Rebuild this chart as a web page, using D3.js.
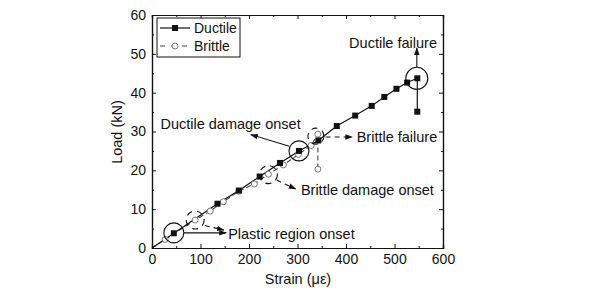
<!DOCTYPE html>
<html>
<head>
<meta charset="utf-8">
<script src="https://cdn.jsdelivr.net/npm/d3@7"></script>
<style>
  body { margin: 0; background: #fff; }
  text { font-family: "Liberation Sans", Arial, sans-serif; fill: #111; }
</style>
</head>
<body>
<svg width="600" height="298"></svg>
<script>
// strain (micro-strain) / load (kN)
const ductileStrain = [0, 45, 135, 179, 222, 264, 303, 343, 381, 419, 453, 479, 504, 526, 547, 547]
const ductileLoad   = [0, 3.8, 11.4, 14.8, 18.4, 21.9, 25.0, 27.7, 31.4, 34.1, 36.6, 38.9, 41.0, 42.6, 43.7, 35.1]
const brittleStrain = [0, 27, 89, 120, 147, 179, 211, 240, 271, 302, 328, 342, 342]
const brittleLoad   = [0, 2.2, 7.2, 9.5, 11.9, 14.6, 16.5, 19.0, 21.4, 24.1, 26.4, 29.3, 20.3]
const xTicks = [0, 100, 200, 300, 400, 500, 600]
const yTicks = [0, 10, 20, 30, 40, 50, 60]

// annotations, in data units
const circles = [
  {x: 45, y: 3.9, r: 10, dashed: false},
  {x: 303, y: 25, r: 10, dashed: false},
  {x: 546, y: 43.7, r: 11, dashed: false},
  {x: 89, y: 7.2, r: 9, dashed: true},
  {x: 240, y: 18.9, r: 9, dashed: true},
  {x: 338, y: 28.8, r: 8, dashed: true}
]
const arrows = [
  {x1: 66, y1: 3.9, x2: 153, y2: 3.9, dashed: false},
  {x1: 109, y1: 5.8, x2: 148, y2: 4.6, dashed: true},
  {x1: 283, y1: 26.2, x2: 204, y2: 29.2, dashed: false},
  {x1: 546, y1: 46.6, x2: 546, y2: 51.5, dashed: false},
  {x1: 358, y1: 28.6, x2: 413, y2: 28.6, dashed: true},
  {x1: 257, y1: 17.5, x2: 296, y2: 15.2, dashed: true}
]
const labels = [
  {x: 157, y: 3.6, text: 'Plastic region onset', anchor: 'start'},
  {x: 162, y: 31.9, text: 'Ductile damage onset', anchor: 'middle'},
  {x: 497, y: 52.9, text: 'Ductile failure', anchor: 'middle'},
  {x: 422, y: 28.6, text: 'Brittle failure', anchor: 'start'},
  {x: 307, y: 15.0, text: 'Brittle damage onset', anchor: 'start'}
]

const svg = d3.select('svg')
const x = d3.scaleLinear().domain([0, 600]).range([152, 443])
const y = d3.scaleLinear().domain([0, 60]).range([248, 15])

const defs = svg.append('defs')
defs.append('clipPath').attr('id', 'clip')
  .append('rect').attr('x', 152).attr('y', 15).attr('width', 291).attr('height', 233)
defs.append('marker').attr('id', 'head')
  .attr('viewBox', '0 0 10 10').attr('refX', 9).attr('refY', 5)
  .attr('markerWidth', 7).attr('markerHeight', 7).attr('orient', 'auto')
  .append('path').attr('d', 'M0,1.5 L10,5 L0,8.5 Z').attr('fill', '#111')

// frame + ticks (Origin style: inward on all four sides)
const minorX = d3.range(50, 600, 100)
const minorY = d3.range(5, 60, 10)
const fmt = d3.format('d')

function styleAxis(g) {
  g.select('.domain').attr('stroke', '#111').attr('stroke-width', 1.2)
  g.selectAll('.tick line').attr('stroke', '#111')
  g.selectAll('.tick text').attr('font-size', 14).attr('fill', '#111')
    .attr('font-family', '"Liberation Sans", Arial, sans-serif')
}

svg.append('g').attr('transform', 'translate(0,248)')
  .call(d3.axisBottom(x).tickValues(xTicks).tickFormat(fmt).tickSize(-4).tickPadding(6))
  .call(styleAxis)
svg.append('g').attr('transform', 'translate(0,248)')
  .call(d3.axisBottom(x).tickValues(minorX).tickFormat('').tickSize(-2))
  .call(styleAxis)
svg.append('g').attr('transform', 'translate(0,15)')
  .call(d3.axisTop(x).tickValues(xTicks).tickFormat('').tickSize(-4))
  .call(styleAxis)
svg.append('g').attr('transform', 'translate(0,15)')
  .call(d3.axisTop(x).tickValues(minorX).tickFormat('').tickSize(-2))
  .call(styleAxis)
svg.append('g').attr('transform', 'translate(152,0)')
  .call(d3.axisLeft(y).tickValues(yTicks).tickFormat(fmt).tickSize(-4).tickPadding(6))
  .call(styleAxis)
svg.append('g').attr('transform', 'translate(152,0)')
  .call(d3.axisLeft(y).tickValues(minorY).tickFormat('').tickSize(-2))
  .call(styleAxis)
svg.append('g').attr('transform', 'translate(443,0)')
  .call(d3.axisRight(y).tickValues(yTicks).tickFormat('').tickSize(-4))
  .call(styleAxis)
svg.append('g').attr('transform', 'translate(443,0)')
  .call(d3.axisRight(y).tickValues(minorY).tickFormat('').tickSize(-2))
  .call(styleAxis)

// axis titles
svg.append('text').attr('x', 298).attr('y', 284).attr('text-anchor', 'middle')
  .attr('font-size', 14.5).text('Strain (με)')
svg.append('text').attr('transform', 'translate(122,132) rotate(-90)')
  .attr('text-anchor', 'middle').attr('font-size', 14.5).text('Load (kN)')

// data
const plot = svg.append('g').attr('clip-path', 'url(#clip)')
const ductile = ductileStrain.map((s, i) => ({s: s, l: ductileLoad[i]}))
const brittle = brittleStrain.map((s, i) => ({s: s, l: brittleLoad[i]}))
const line = d3.line().x(d => x(d.s)).y(d => y(d.l))

plot.append('path').datum(brittle).attr('d', line)
  .attr('fill', 'none').attr('stroke', '#444').attr('stroke-width', 1.1)
  .attr('stroke-dasharray', '5,3')
plot.append('path').datum(ductile).attr('d', line)
  .attr('fill', 'none').attr('stroke', '#111').attr('stroke-width', 1.2)

plot.selectAll('circle.brittle').data(brittle.filter(d => d.s > 0)).enter()
  .append('circle').attr('class', 'brittle')
  .attr('cx', d => x(d.s)).attr('cy', d => y(d.l)).attr('r', 3)
  .attr('fill', '#fff').attr('stroke', '#777').attr('stroke-width', 1)
plot.selectAll('rect.ductile').data(ductile.filter(d => d.s > 0)).enter()
  .append('rect').attr('class', 'ductile')
  .attr('x', d => x(d.s) - 3).attr('y', d => y(d.l) - 3)
  .attr('width', 6).attr('height', 6).attr('fill', '#111')

// annotations
const ann = svg.append('g')
ann.selectAll('circle').data(circles).enter().append('circle')
  .attr('cx', d => x(d.x)).attr('cy', d => y(d.y)).attr('r', d => d.r)
  .attr('fill', 'none').attr('stroke', '#111').attr('stroke-width', 1.1)
  .attr('stroke-dasharray', d => d.dashed ? '6,5' : null)
ann.selectAll('line').data(arrows).enter().append('line')
  .attr('x1', d => x(d.x1)).attr('y1', d => y(d.y1))
  .attr('x2', d => x(d.x2)).attr('y2', d => y(d.y2))
  .attr('stroke', '#111').attr('stroke-width', 1.1)
  .attr('stroke-dasharray', d => d.dashed ? '5,4' : null)
  .attr('marker-end', 'url(#head)')
ann.selectAll('text').data(labels).enter().append('text')
  .attr('x', d => x(d.x)).attr('y', d => y(d.y)).attr('dy', '0.35em')
  .attr('text-anchor', d => d.anchor).attr('font-size', 14.5).text(d => d.text)

// legend
const legend = svg.append('g').attr('transform', 'translate(157,18)')
legend.append('rect').attr('width', 83).attr('height', 39)
  .attr('fill', '#fff').attr('stroke', '#111').attr('stroke-width', 1)
const lg = legend.selectAll('g').data(['Ductile', 'Brittle']).enter().append('g')
  .attr('transform', (d, i) => 'translate(0,' + (10 + i * 18) + ')')
lg.append('line').attr('x1', 3).attr('x2', 33)
  .attr('stroke', (d, i) => i ? '#444' : '#111').attr('stroke-width', 1.2)
  .attr('stroke-dasharray', (d, i) => i ? '5,6' : null)
lg.filter((d, i) => i === 0).append('rect')
  .attr('x', 15).attr('y', -3).attr('width', 6).attr('height', 6).attr('fill', '#111')
lg.filter((d, i) => i === 1).append('circle')
  .attr('cx', 18).attr('r', 3).attr('fill', '#fff').attr('stroke', '#777')
lg.append('text').attr('x', 37).attr('dy', '0.35em').attr('font-size', 14).text(d => d)
</script>
</body>
</html>
